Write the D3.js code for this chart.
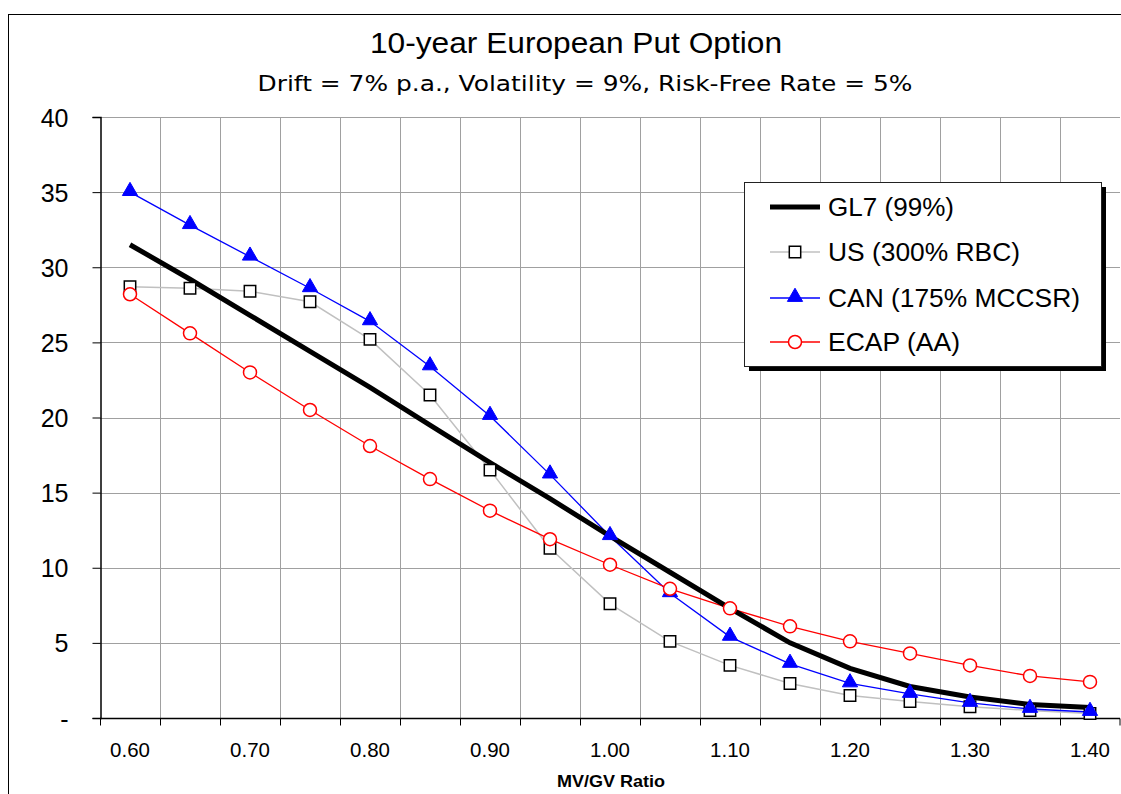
<!DOCTYPE html>
<html>
<head>
<meta charset="utf-8">
<script src="https://cdn.jsdelivr.net/npm/d3@7"></script>
<style>
body { margin: 0; background: #fff; }
</style>
</head>
<body>
<script>
var ratios = ["0.60","0.65","0.70","0.75","0.80","0.85","0.90","0.95","1.00","1.05","1.10","1.15","1.20","1.25","1.30","1.35","1.40"];
var gl7  = [31.5, 29.2, 26.8, 24.4, 22.0, 19.5, 17.0, 14.6, 12.1, 9.7, 7.3, 5.0, 3.3, 2.1, 1.4, 0.9, 0.7];
var us   = [28.7, 28.6, 28.4, 27.7, 25.2, 21.5, 16.5, 11.3, 7.6, 5.1, 3.5, 2.3, 1.5, 1.1, 0.75, 0.5, 0.3];
var can  = [35.0, 32.8, 30.7, 28.6, 26.4, 23.4, 20.1, 16.2, 12.1, 8.3, 5.4, 3.6, 2.3, 1.6, 1.0, 0.6, 0.4];
var ecap = [28.2, 25.6, 23.0, 20.5, 18.1, 15.9, 13.8, 11.9, 10.2, 8.6, 7.3, 6.1, 5.1, 4.3, 3.5, 2.8, 2.4];
var yTicks = [0, 5, 10, 15, 20, 25, 30, 35, 40];
var xLabels = ["0.60","0.70","0.80","0.90","1.00","1.10","1.20","1.30","1.40"];
var seriesNames = ["GL7 (99%)", "US (300% RBC)", "CAN (175% MCCSR)", "ECAP (AA)"];

var width = 1121, height = 794;
var pLeft = 100, pRight = 1120, pTop = 117, pBottom = 718;
var arial = "Liberation Sans, Arial, sans-serif";

var svg = d3.select("body").append("svg")
	.attr("width", width).attr("height", height);

// outer chart frame (runs off the picture at right / bottom)
svg.append("rect").attr("x", 8.5).attr("y", 14.5).attr("width", 1200).attr("height", 900)
	.attr("fill", "none").attr("stroke", "#000").attr("stroke-width", 1);

var x = d3.scaleBand().domain(ratios).range([pLeft, pRight]);
var y = d3.scaleLinear().domain([0, 40]).range([pBottom, pTop]);

// grid
var grid = svg.append("g");
grid.selectAll(".hg").data(yTicks.slice(1)).enter().append("line")
	.attr("x1", pLeft).attr("x2", pRight)
	.attr("y1", function (d) { return Math.round(y(d)) + 0.5; })
	.attr("y2", function (d) { return Math.round(y(d)) + 0.5; })
	.attr("stroke", "#a0a0a0").attr("stroke-width", 1);
grid.selectAll(".vg").data(ratios.slice(1)).enter().append("line")
	.attr("x1", function (d) { return Math.round(x(d)) + 0.5; })
	.attr("x2", function (d) { return Math.round(x(d)) + 0.5; })
	.attr("y1", pTop).attr("y2", pBottom)
	.attr("stroke", "#a0a0a0").attr("stroke-width", 1);

// axes
var yAxis = d3.axisLeft(y).tickValues(yTicks).tickSize(8).tickPadding(24)
	.tickFormat(function (d) { return d === 0 ? "-" : d; });
var gy = svg.append("g").attr("transform", "translate(" + (pLeft + 0.5) + ",0)").call(yAxis);
gy.select(".domain").attr("stroke", "#000").attr("stroke-width", 1.5);
gy.selectAll("line").attr("stroke", "#000");
gy.selectAll("text").attr("font-family", arial)
	.attr("font-size", 25).attr("fill", "#000").attr("dy", "0.36em");

var gx = svg.append("g").attr("transform", "translate(0," + (pBottom + 0.5) + ")");
gx.append("line").attr("x1", pLeft).attr("x2", pRight).attr("stroke", "#000").attr("stroke-width", 1.5);
gx.selectAll(".tk").data(ratios.concat(["end"])).enter().append("line")
	.attr("x1", function (d) { return d === "end" ? pRight : Math.round(x(d)) + 0.5; })
	.attr("x2", function (d) { return d === "end" ? pRight : Math.round(x(d)) + 0.5; })
	.attr("y1", 0).attr("y2", 7).attr("stroke", "#000");
gx.selectAll(".lb").data(xLabels).enter().append("text")
	.attr("x", function (d) { return x(d) + x.bandwidth() / 2; })
	.attr("y", 38)
	.attr("text-anchor", "middle")
	.attr("font-family", arial)
	.attr("font-size", 20.5)
	.text(function (d) { return d; });

svg.append("text").attr("x", 611).attr("y", 787).attr("text-anchor", "middle")
	.attr("font-family", arial).attr("font-weight", "bold")
	.attr("font-size", 16.5).attr("textLength", 108).attr("lengthAdjust", "spacingAndGlyphs")
	.text("MV/GV Ratio");

// titles
svg.append("text").attr("x", 576).attr("y", 53).attr("text-anchor", "middle")
	.attr("font-family", arial).attr("font-size", 29)
	.attr("textLength", 412).attr("lengthAdjust", "spacingAndGlyphs")
	.text("10-year European Put Option");
svg.append("text").attr("x", 585).attr("y", 91).attr("text-anchor", "middle")
	.attr("font-family", "DejaVu Sans, Verdana, sans-serif").attr("font-size", 22)
	.attr("textLength", 655).attr("lengthAdjust", "spacingAndGlyphs")
	.text("Drift = 7% p.a., Volatility = 9%, Risk-Free Rate = 5%");

// series
var cx = function (d, i) { return x(ratios[i]) + x.bandwidth() / 2; };
var line = d3.line().x(cx).y(function (d) { return y(d); });

svg.append("path").datum(us).attr("d", line).attr("fill", "none")
	.attr("stroke", "#c0c0c0").attr("stroke-width", 1.5);
svg.append("path").datum(can).attr("d", line).attr("fill", "none")
	.attr("stroke", "#0000ff").attr("stroke-width", 1.3);
svg.append("path").datum(ecap).attr("d", line).attr("fill", "none")
	.attr("stroke", "#ff0000").attr("stroke-width", 1.3);
svg.append("path").datum(gl7).attr("d", line).attr("fill", "none")
	.attr("stroke", "#000").attr("stroke-width", 5);

var sq = d3.symbol().type(d3.symbolSquare).size(130);
var tri = d3.symbol().type(d3.symbolTriangle).size(100);

svg.selectAll(".us").data(us).enter().append("path")
	.attr("d", sq)
	.attr("transform", function (d, i) { return "translate(" + cx(d, i) + "," + y(d) + ")"; })
	.attr("fill", "#fff").attr("stroke", "#000").attr("stroke-width", 1.5);
svg.selectAll(".can").data(can).enter().append("path")
	.attr("d", tri)
	.attr("transform", function (d, i) { return "translate(" + cx(d, i) + "," + (y(d) - 1) + ")"; })
	.attr("fill", "#0000ff").attr("stroke", "#0000ff").attr("stroke-width", 1);
svg.selectAll(".ecap").data(ecap).enter().append("circle")
	.attr("cx", cx).attr("cy", function (d) { return y(d); }).attr("r", 6.5)
	.attr("fill", "#fff").attr("stroke", "#ff0000").attr("stroke-width", 1.5);

// legend
var lg = svg.append("g").attr("transform", "translate(744,182)");
lg.append("rect").attr("x", 5).attr("y", 5).attr("width", 357).attr("height", 184).attr("fill", "#000");
lg.append("rect").attr("x", 0.5).attr("y", 0.5).attr("width", 357).attr("height", 184)
	.attr("fill", "#fff").attr("stroke", "#222").attr("stroke-width", 1);

var rows = [25, 70, 116, 160];
var legStroke = ["#000", "#c0c0c0", "#0000ff", "#ff0000"];
var legWidth = [5, 1.5, 1.3, 1.3];
var legText = [126, 192, 252, 132];
seriesNames.forEach(function (name, i) {
	var g = lg.append("g").attr("transform", "translate(0," + rows[i] + ")");
	g.append("line").attr("x1", 26).attr("x2", 76).attr("y1", 0).attr("y2", 0)
		.attr("stroke", legStroke[i]).attr("stroke-width", legWidth[i]);
	if (i === 1) {
		g.append("path").attr("d", sq).attr("transform", "translate(51,0)")
			.attr("fill", "#fff").attr("stroke", "#000").attr("stroke-width", 1.5);
	} else if (i === 2) {
		g.append("path").attr("d", tri).attr("transform", "translate(51,-1)")
			.attr("fill", "#0000ff").attr("stroke", "#0000ff");
	} else if (i === 3) {
		g.append("circle").attr("cx", 51).attr("cy", 0).attr("r", 6.5)
			.attr("fill", "#fff").attr("stroke", "#ff0000").attr("stroke-width", 1.5);
	}
	g.append("text").attr("x", 84).attr("y", 9)
		.attr("font-family", arial).attr("font-size", 25)
		.attr("textLength", legText[i]).attr("lengthAdjust", "spacingAndGlyphs")
		.text(name);
});
</script>
</body>
</html>
